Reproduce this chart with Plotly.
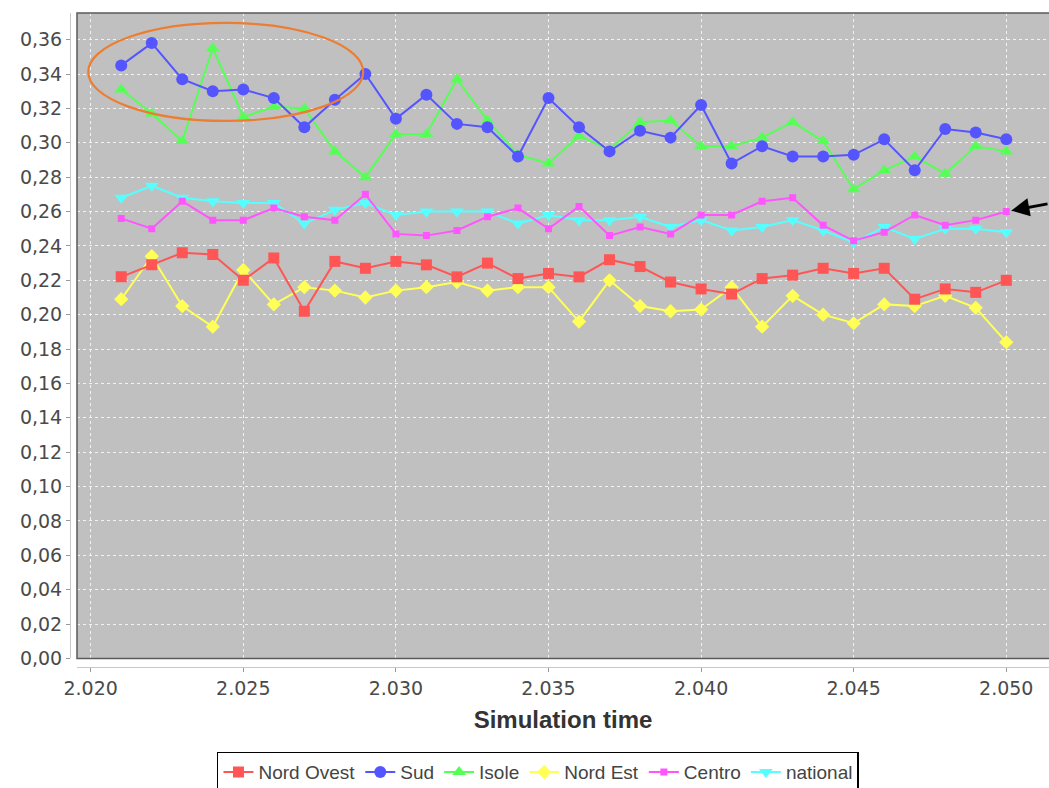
import plotly.graph_objects as go

# Simulation years
years = list(range(2021, 2051))

# Share per macro-region, one value per simulated year
nord_ovest = [0.222, 0.229, 0.236, 0.235, 0.220, 0.233, 0.202, 0.231, 0.227, 0.231,
              0.229, 0.222, 0.230, 0.221, 0.224, 0.222, 0.232, 0.228, 0.219, 0.215,
              0.212, 0.221, 0.223, 0.227, 0.224, 0.227, 0.209, 0.215, 0.213, 0.220]
sud = [0.345, 0.358, 0.337, 0.330, 0.331, 0.326, 0.309, 0.325, 0.340, 0.314,
       0.328, 0.311, 0.309, 0.292, 0.326, 0.309, 0.295, 0.307, 0.303, 0.322,
       0.288, 0.298, 0.292, 0.292, 0.293, 0.302, 0.284, 0.308, 0.306, 0.302]
isole = [0.331, 0.317, 0.301, 0.355, 0.315, 0.321, 0.320, 0.295, 0.280, 0.305,
         0.305, 0.337, 0.313, 0.293, 0.288, 0.304, 0.296, 0.312, 0.313, 0.298,
         0.298, 0.303, 0.312, 0.301, 0.273, 0.284, 0.292, 0.282, 0.298, 0.295]
nord_est = [0.209, 0.234, 0.205, 0.193, 0.226, 0.206, 0.216, 0.214, 0.210, 0.214,
            0.216, 0.219, 0.214, 0.216, 0.216, 0.196, 0.220, 0.205, 0.202, 0.203,
            0.216, 0.193, 0.211, 0.200, 0.195, 0.206, 0.205, 0.211, 0.204, 0.184]
centro = [0.256, 0.250, 0.266, 0.255, 0.255, 0.262, 0.257, 0.255, 0.270, 0.247,
          0.246, 0.249, 0.257, 0.262, 0.250, 0.263, 0.246, 0.251, 0.247, 0.258,
          0.258, 0.266, 0.268, 0.252, 0.243, 0.248, 0.258, 0.252, 0.255, 0.260]
national = [0.268, 0.275, 0.268, 0.266, 0.265, 0.265, 0.253, 0.261, 0.265, 0.258,
            0.260, 0.260, 0.260, 0.253, 0.258, 0.255, 0.255, 0.257, 0.251, 0.255,
            0.249, 0.251, 0.255, 0.249, 0.242, 0.251, 0.244, 0.250, 0.250, 0.248]

series_names = ["Nord Ovest", "Sud", "Isole", "Nord Est", "Centro", "national"]
series_values = [nord_ovest, sud, isole, nord_est, centro, national]
series_colors = ["#FF5555", "#5555FF", "#55FF55", "#FFFF55", "#FF55FF", "#55FFFF"]
series_symbols = ["square", "circle", "triangle-up", "diamond", "square", "triangle-down"]
series_sizes = [11, 12, 12, 11, 7, 12]

for vals in series_values:
    assert len(vals) == len(years)

# Highlight ellipse around the early Sud / Isole peak (data coordinates)
ELLIPSE_X = (2019.92, 2028.93)
ELLIPSE_Y = (0.3127, 0.3697)

FONT = "Liberation Sans, Arial, sans-serif"
TICK_FONT = "DejaVu Sans, Verdana, sans-serif"

fig = go.Figure()

# Later series first so the first series is painted on top; legend keeps the natural order
for rank in reversed(range(len(series_names))):
    fig.add_trace(go.Scatter(
        x=years,
        y=series_values[rank],
        name=series_names[rank],
        mode="lines+markers",
        line=dict(color=series_colors[rank], width=2),
        marker=dict(symbol=series_symbols[rank], size=series_sizes[rank],
                    color=series_colors[rank], line=dict(width=0)),
        legendrank=rank + 1,
        hoverinfo="skip",
    ))

grid_style = dict(showgrid=True, gridcolor="#f2f2f2", gridwidth=1, griddash="3px,3px")

fig.update_layout(
    width=1049,
    height=788,
    autosize=False,
    template="none",
    paper_bgcolor="white",
    plot_bgcolor="#C0C0C0",
    separators=",.",
    margin=dict(l=70, r=0, t=13, b=121, pad=0),
    font=dict(family=FONT, size=20, color="#444444"),
    xaxis=dict(
        domain=[0.00715, 1],
        anchor="free",
        position=0,
        range=[2019.551, 2051.40],
        tick0=2020,
        dtick=5,
        tickformat=",d",
        ticks="outside",
        ticklen=4,
        tickcolor="#999999",
        showline=True,
        linecolor="#c8c8c8",
        linewidth=1,
        zeroline=False,
        tickfont=dict(family=TICK_FONT, size=19, color="#4a4a4a"),
        title=dict(text="<b>Simulation time</b>",
                   font=dict(family=FONT, size=24, color="#333333"),
                   standoff=13),
        **grid_style,
    ),
    yaxis=dict(
        domain=[0.013, 1],
        anchor="free",
        position=0,
        range=[0, 0.3755],
        tick0=0,
        dtick=0.02,
        tickformat=".2f",
        ticks="outside",
        ticklen=4,
        tickcolor="#999999",
        showline=True,
        linecolor="#c8c8c8",
        linewidth=1,
        zeroline=False,
        tickfont=dict(family=TICK_FONT, size=19, color="#4a4a4a"),
        **grid_style,
    ),
    legend=dict(
        orientation="h",
        xref="paper",
        x=0.478,
        xanchor="center",
        yref="container",
        y=0.0461,
        yanchor="top",
        bgcolor="white",
        bordercolor="black",
        borderwidth=1.5,
        itemwidth=30,
        font=dict(family=FONT, size=19, color="#444444"),
        traceorder="normal",
    ),
    showlegend=True,
)

# Plot frame (left, top and bottom edges; the right side runs off the page)
fig.add_shape(type="path", xref="x domain", yref="y domain",
              path="M 1,1 L 0,1 L 0,0 L 1,0",
              line=dict(color="#5a5a5a", width=1.5), layer="above")

# Orange ellipse marking the early peak
fig.add_shape(type="circle", xref="x", yref="y",
              x0=ELLIPSE_X[0], x1=ELLIPSE_X[1], y0=ELLIPSE_Y[0], y1=ELLIPSE_Y[1],
              line=dict(color="#ED7D31", width=2.2), fillcolor="rgba(0,0,0,0)", layer="above")

# Arrow pointing to the last Centro value
fig.add_annotation(x=years[-1], y=centro[-1], xref="x", yref="y", text="",
                   showarrow=True, arrowhead=2, arrowsize=1.3, arrowwidth=2.8,
                   arrowcolor="black", ax=55, ay=-8, standoff=5)

fig.write_html("out.html", config={"displayModeBar": False})
